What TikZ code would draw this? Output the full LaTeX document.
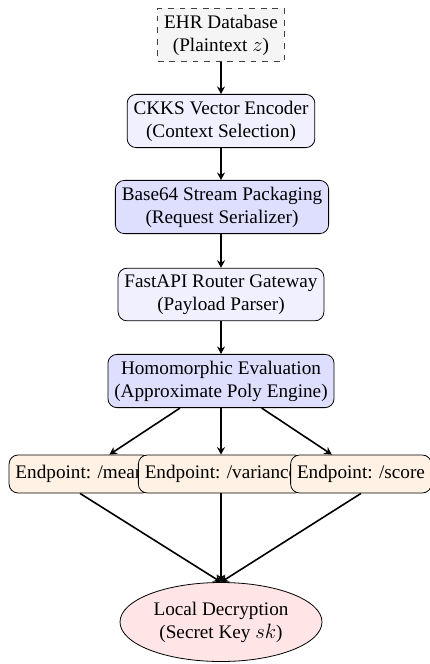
\documentclass[tikz,border=0pt]{standalone}
\usepackage{fontspec}
\setmainfont{Liberation Serif}
\usetikzlibrary{shapes.geometric,arrows.meta}
\begin{document}
\begin{tikzpicture}[x=1pt,y=-1pt,
  every node/.style={font=\fontsize{19.2}{23}\selectfont},
  base/.style={draw, line width=0.8pt, rounded corners=9pt, align=center, inner xsep=6.4pt, inner ysep=6.4pt},
  lightbox/.style={base, fill=blue!6},
  darkbox/.style={base, fill=blue!13},
  srcbox/.style={draw=black!75, dashed, dash pattern=on 5.8pt off 5.8pt, line width=0.8pt, fill=black!4, align=center, inner xsep=6.4pt, inner ysep=6.4pt},
  endbox/.style={base, fill=orange!10, minimum height=38pt},
  decbox/.style={draw, ellipse, line width=0.8pt, fill=red!10, align=center, minimum width=202pt, minimum height=79pt},
  arr/.style={-{Stealth[length=7.5pt,width=8pt,inset=2.5pt]}, line width=1.6pt}
]
\useasboundingbox (0,0) rectangle (430,664);
\node[srcbox] (ehr) at (221,35) {EHR Database\\(Plaintext $z$)};
\node[lightbox] (ckks) at (221,121) {CKKS Vector Encoder\\(Context Selection)};
\node[darkbox] (b64) at (222,207) {Base64 Stream Packaging\\(Request Serializer)};
\node[lightbox] (fast) at (221,294.5) {FastAPI Router Gateway\\(Payload Parser)};
\node[darkbox] (homo) at (221,381) {Homomorphic Evaluation\\(Approximate Poly Engine)};
\node[endbox] (mean) at (80,474) {Endpoint: /mean};
\node[endbox] (var) at (221,474) {Endpoint: /variance};
\node[endbox] (score) at (361,474) {Endpoint: /score};
\node[decbox] (dec) at (221,622) {Local Decryption\\(Secret Key $sk$)};
\draw[arr] (ehr) -- (ckks);
\draw[arr] (ckks.south) -- (b64.north -| ckks.south);
\draw[arr] (b64.south -| fast.north) -- (fast.north);
\draw[arr] (fast) -- (homo);
\draw[arr] (homo) -- (mean);
\draw[arr] (homo) -- (var);
\draw[arr] (homo) -- (score);
\draw[arr] (mean.south) -- (dec.north);
\draw[arr] (var.south) -- (dec.north);
\draw[arr] (score.south) -- (dec.north);
\end{tikzpicture}
\end{document}
